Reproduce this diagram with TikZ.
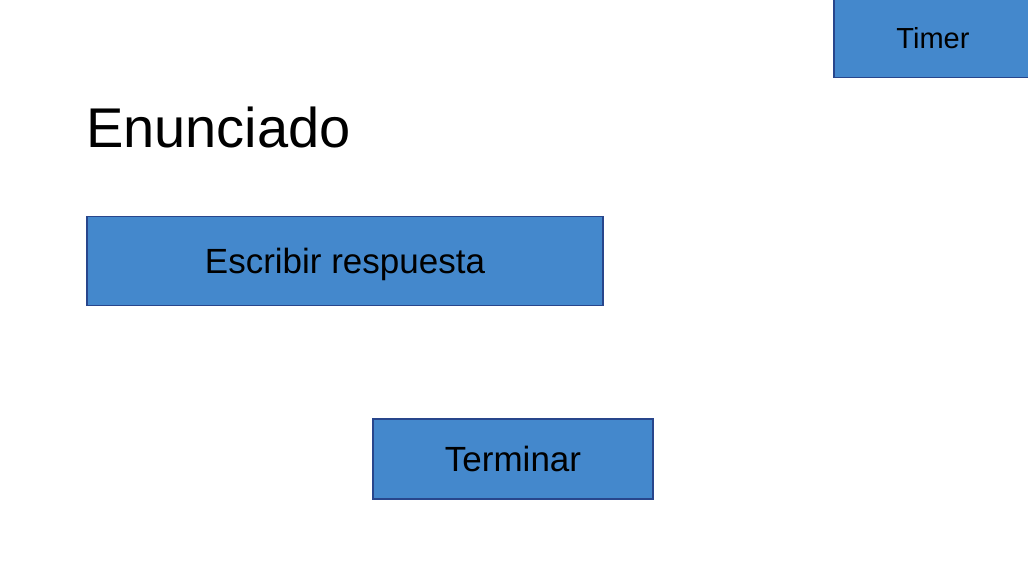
\documentclass[tikz,border=0pt]{standalone}
\usepackage{fontspec}
\setmainfont{Liberation Sans}
\usepackage{xcolor}
\definecolor{boxfill}{RGB}{68,136,204}
\definecolor{boxline}{RGB}{40,70,140}
\tikzset{
  uibox/.style={draw=boxline,fill=boxfill,line width=1.8pt,inner sep=0pt,
    text depth=0pt,align=center},
  bigtext/.style={font=\fontsize{35}{42}\selectfont,text height=25pt},
  smalltext/.style={font=\fontsize{29}{35}\selectfont,text height=21pt}
}

\begin{document}
\begin{tikzpicture}[x=1pt,y=-1pt]
\useasboundingbox (0,0) rectangle (1028,585);
\clip (0,0) rectangle (1028,585);
\node[uibox,smalltext,minimum width=198pt,minimum height=79pt] (timer) at (933,38) {Timer};
\node[anchor=base west,inner sep=0pt,font=\fontsize{56}{67}\selectfont] (enunciado) at (86,148) {Enunciado};
\node[uibox,bigtext,minimum width=516pt,minimum height=89pt] (escribir) at (345,261) {Escribir respuesta};
\node[uibox,bigtext,minimum width=280pt,minimum height=80pt] (terminar) at (513,459) {Terminar};
\end{tikzpicture}
\end{document}
